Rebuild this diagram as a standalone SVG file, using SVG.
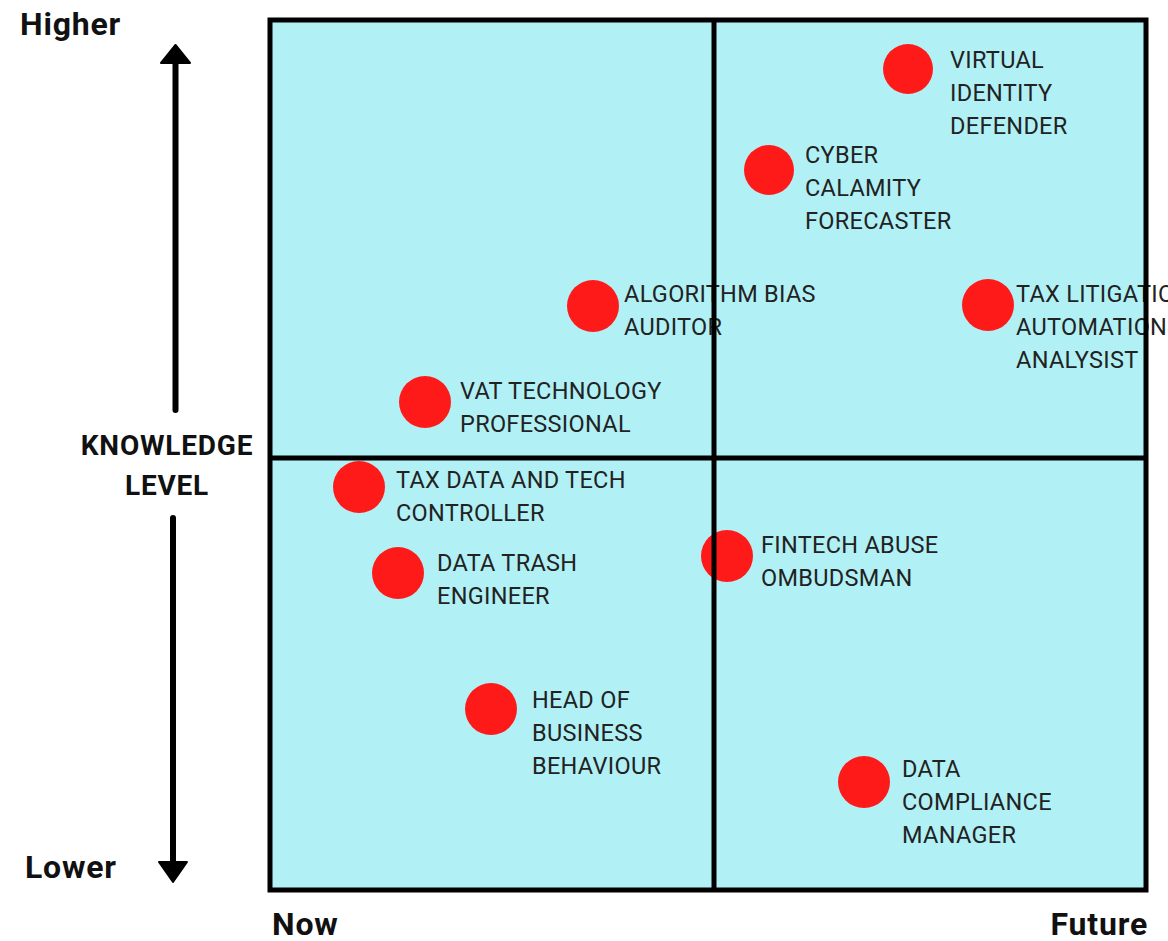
<svg xmlns="http://www.w3.org/2000/svg" width="1168" height="941" viewBox="0 0 1168 941">
<style>
.lbl{font-family:Roboto,"Liberation Sans",sans-serif;font-size:23.5px;fill:#222;letter-spacing:0.3px}
.ax{font-family:Roboto,"Liberation Sans",sans-serif;font-weight:bold;fill:#111;letter-spacing:0.8px}
.dot{fill:#ff1a1a}
.ln{stroke:#000;stroke-width:5;fill:none}
</style>
<rect width="1168" height="941" fill="#fff"/>
<g id="quadrant-bg">
<rect x="270" y="20" width="876" height="870" fill="#b1f1f6"/>
</g>
<g id="n-virtual"><circle class="dot" cx="908" cy="69" r="25"/><text class="lbl" x="950" y="68">VIRTUAL</text><text class="lbl" x="950" y="101">IDENTITY</text><text class="lbl" x="950" y="134">DEFENDER</text></g>
<g id="n-cyber"><circle class="dot" cx="769" cy="170" r="25"/><text class="lbl" x="805" y="163">CYBER</text><text class="lbl" x="805" y="196">CALAMITY</text><text class="lbl" x="805" y="229">FORECASTER</text></g>
<g id="n-algorithm"><circle class="dot" cx="593" cy="306" r="26"/><text class="lbl" x="624" y="302">ALGORITHM BIAS</text><text class="lbl" x="624" y="335">AUDITOR</text></g>
<g id="n-taxlit"><circle class="dot" cx="988" cy="305" r="26"/><text class="lbl" x="1016" y="302">TAX LITIGATION</text><text class="lbl" x="1016" y="335">AUTOMATION</text><text class="lbl" x="1016" y="368">ANALYSIST</text></g>
<g id="n-vat"><circle class="dot" cx="425" cy="402" r="26"/><text class="lbl" x="460" y="399">VAT TECHNOLOGY</text><text class="lbl" x="460" y="432">PROFESSIONAL</text></g>
<g id="n-taxdata"><circle class="dot" cx="359" cy="487" r="26"/><text class="lbl" x="396" y="488">TAX DATA AND TECH</text><text class="lbl" x="396" y="521">CONTROLLER</text></g>
<g id="n-trash"><circle class="dot" cx="398" cy="573" r="26"/><text class="lbl" x="437" y="571">DATA TRASH</text><text class="lbl" x="437" y="604">ENGINEER</text></g>
<g id="n-fintech"><circle class="dot" cx="727" cy="556" r="26"/><text class="lbl" x="761" y="553">FINTECH ABUSE</text><text class="lbl" x="761" y="586">OMBUDSMAN</text></g>
<g id="n-head"><circle class="dot" cx="491" cy="709" r="26"/><text class="lbl" x="532" y="708">HEAD OF</text><text class="lbl" x="532" y="741">BUSINESS</text><text class="lbl" x="532" y="774">BEHAVIOUR</text></g>
<g id="n-compliance"><circle class="dot" cx="864" cy="782" r="26"/><text class="lbl" x="902" y="777">DATA</text><text class="lbl" x="902" y="810">COMPLIANCE</text><text class="lbl" x="902" y="843">MANAGER</text></g>
<g id="grid">
<rect class="ln" x="270" y="20" width="876" height="870"/>
<line class="ln" x1="714" y1="20" x2="714" y2="890"/>
<line class="ln" x1="270" y1="458" x2="1146" y2="458"/>
</g>
<g id="connectors">
<line x1="175.5" y1="60" x2="175.5" y2="410" stroke="#000" stroke-width="6" stroke-linecap="round"/>
<path d="M175.5 45 L190 63 L161 63 Z" fill="#000" stroke="#000" stroke-width="2" stroke-linejoin="round"/>
<line x1="173" y1="518" x2="173" y2="868" stroke="#000" stroke-width="6" stroke-linecap="round"/>
<path d="M173 882 L187 862 L159 862 Z" fill="#000" stroke="#000" stroke-width="2" stroke-linejoin="round"/>
</g>
<g id="axis-labels">
<text class="ax" x="20" y="35" font-size="32">Higher</text>
<text class="ax" x="25" y="878" font-size="32">Lower</text>
<text class="ax" x="167" y="455" font-size="28" text-anchor="middle" letter-spacing="0.5">KNOWLEDGE</text>
<text class="ax" x="167" y="495" font-size="28" text-anchor="middle" letter-spacing="0.5">LEVEL</text>
<text class="ax" x="272" y="935" font-size="32">Now</text>
<text class="ax" x="1148" y="935" font-size="32" text-anchor="end">Future</text>
</g>
</svg>
